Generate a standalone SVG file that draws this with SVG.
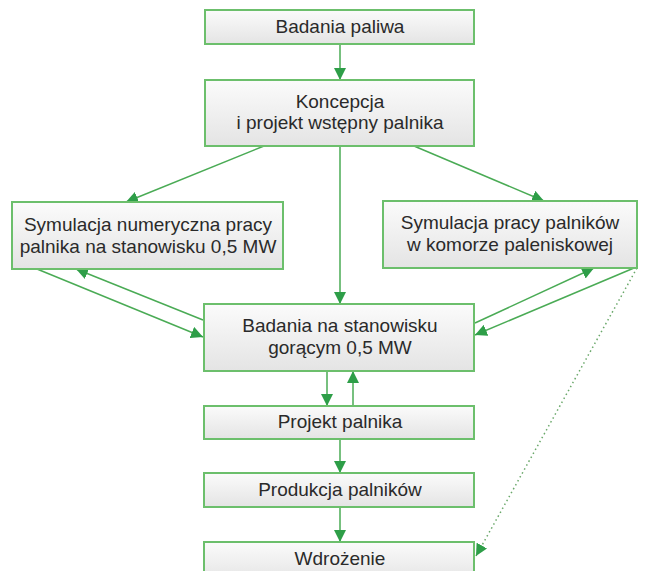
<svg xmlns="http://www.w3.org/2000/svg" width="647" height="571" viewBox="0 0 647 571">
<defs>
<linearGradient id="g" x1="0" y1="0" x2="0" y2="1">
<stop offset="0" stop-color="#fbfbfb"/>
<stop offset="1" stop-color="#e4e4e4"/>
</linearGradient>
<marker id="ah" viewBox="0 0 10 10" refX="10" refY="5" markerWidth="12" markerHeight="12" markerUnits="userSpaceOnUse" orient="auto">
<path d="M0,0 L10,5 L0,10 z" fill="#2e9e48"/>
</marker>
</defs>
<style>
.box{fill:url(#g);stroke:#6cbf6c;stroke-width:2}
.t{font-family:"Liberation Sans",Arial,sans-serif;font-size:19px;fill:#2a2a2a;text-anchor:middle}
.c{stroke:#4aab55;stroke-width:1.5;fill:none;marker-end:url(#ah)}
.d{stroke:#6aa86a;stroke-width:1.5;fill:none;stroke-dasharray:1.5 3;marker-end:url(#ah)}
</style>
<rect width="647" height="571" fill="#fff"/>
<g id="connectors">
<line class="c" x1="340" y1="44" x2="340" y2="80"/>
<line class="c" x1="264" y1="146" x2="126" y2="202"/>
<line class="c" x1="414" y1="146" x2="544" y2="201"/>
<line class="c" x1="340" y1="146" x2="340" y2="304"/>
<line class="c" x1="37" y1="269" x2="203" y2="337"/>
<line class="c" x1="203" y1="320" x2="76" y2="269"/>
<line class="c" x1="475" y1="323" x2="594" y2="268"/>
<line class="c" x1="634" y1="268" x2="475" y2="335"/>
<line class="d" x1="637" y1="268" x2="476" y2="556"/>
<line class="c" x1="327" y1="371" x2="327" y2="406"/>
<line class="c" x1="353" y1="406" x2="353" y2="371"/>
<line class="c" x1="340" y1="439" x2="340" y2="473"/>
<line class="c" x1="340" y1="507" x2="340" y2="542"/>
</g>
<g id="n1"><rect class="box" x="205" y="10" width="269" height="34"/><text class="t" x="340" y="33">Badania paliwa</text></g>
<g id="n2"><rect class="box" x="205" y="80" width="269" height="66"/><text class="t" x="340" y="108">Koncepcja</text><text class="t" x="340" y="129">i projekt wstępny palnika</text></g>
<g id="n3"><rect class="box" x="12" y="202" width="271" height="67"/><text class="t" x="148" y="231">Symulacja numeryczna pracy</text><text class="t" x="148" y="253">palnika na stanowisku 0,5 MW</text></g>
<g id="n4"><rect class="box" x="383" y="201" width="254" height="67"/><text class="t" x="510" y="229">Symulacja pracy palników</text><text class="t" x="510" y="251">w komorze paleniskowej</text></g>
<g id="n5"><rect class="box" x="204" y="304" width="270" height="67"/><text class="t" x="340" y="332">Badania na stanowisku</text><text class="t" x="340" y="354">gorącym 0,5 MW</text></g>
<g id="n6"><rect class="box" x="204" y="406" width="270" height="33"/><text class="t" x="340" y="428">Projekt palnika</text></g>
<g id="n7"><rect class="box" x="204" y="473" width="270" height="34"/><text class="t" x="340" y="496">Produkcja palników</text></g>
<g id="n8"><rect class="box" x="204" y="542" width="270" height="40"/><text class="t" x="340" y="565">Wdrożenie</text></g>
</svg>
